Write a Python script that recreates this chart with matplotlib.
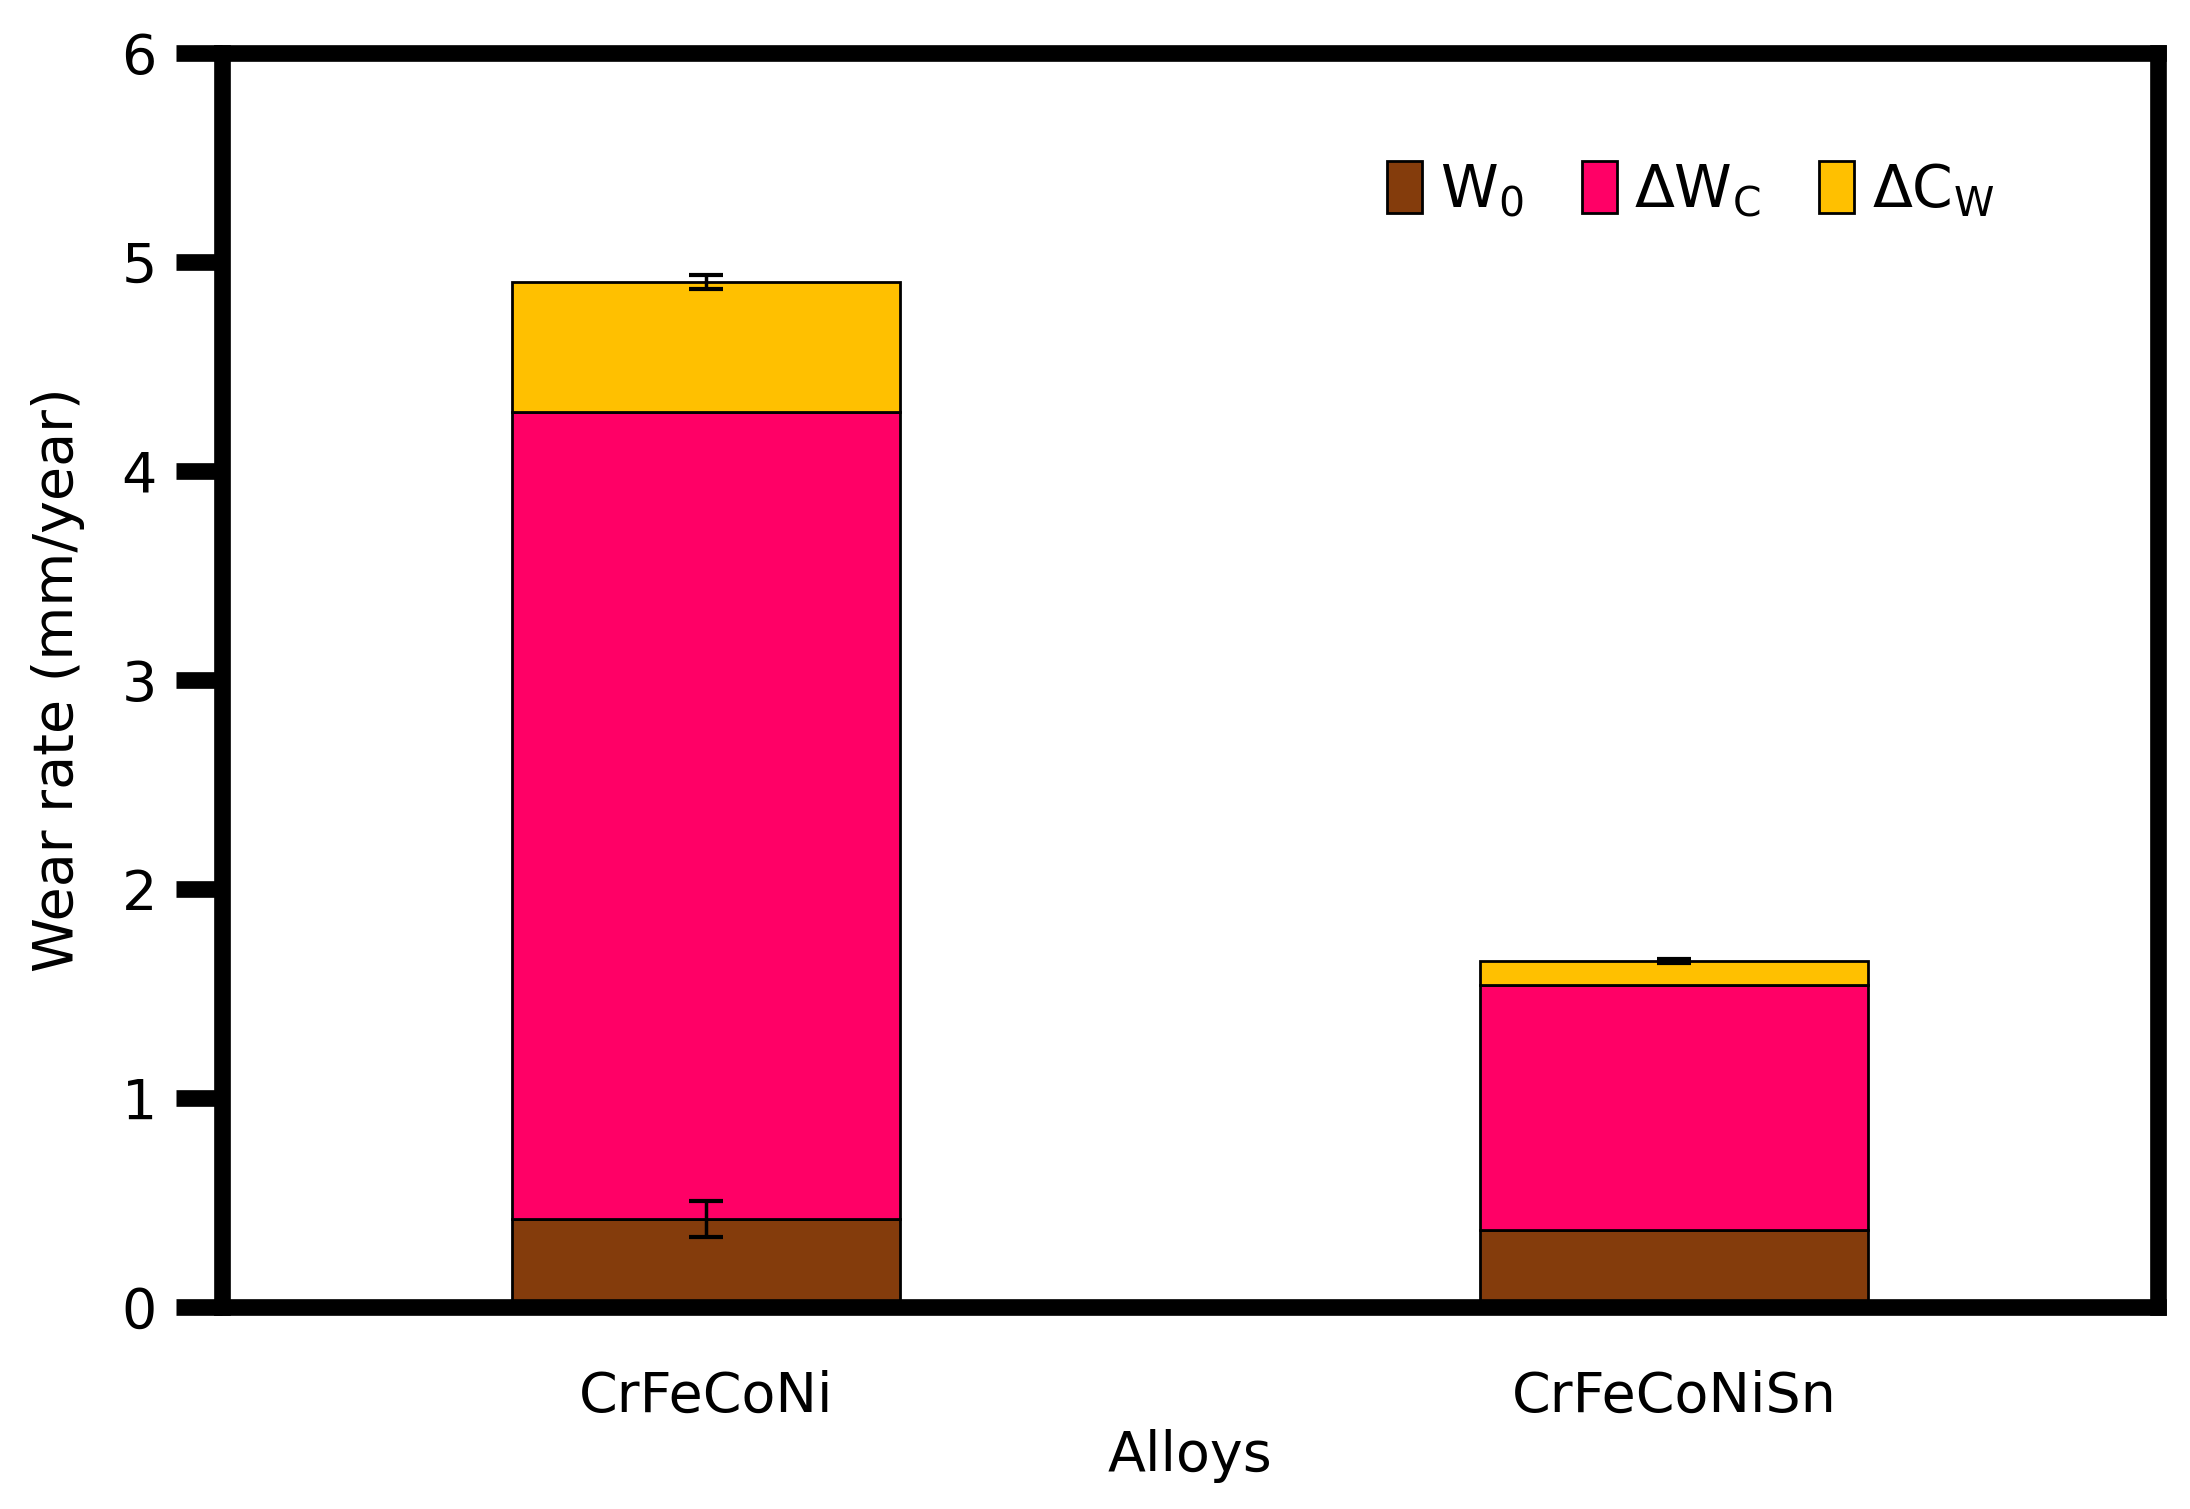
import matplotlib.pyplot as plt
import numpy as np

# data
alloys = ["CrFeCoNi", "CrFeCoNiSn"]
w0 = [0.42, 0.37]
dwc = [3.86, 1.17]
dcw = [0.625, 0.115]
w0_err = [0.085, 0.0]
total_err = [0.035, 0.008]

colors = ["#843C0C", "#FF0066", "#FFC000"]
labels = ["W$\\mathregular{_0}$", "ΔW$\\mathregular{_C}$", "ΔC$\\mathregular{_W}$"]

plt.rcParams['font.family'] = ['DejaVu Sans']

fig = plt.figure(figsize=(21.9, 15.09), dpi=100)
ax = fig.add_axes([0.1014, 0.1339, 0.884, 0.8310])

x = np.arange(len(alloys))
width = 0.4
ax.bar(x, w0, width, color=colors[0], edgecolor="black", linewidth=2, label=labels[0], zorder=2)
ax.bar(x, dwc, width, bottom=w0, color=colors[1], edgecolor="black", linewidth=2, label=labels[1], zorder=2)
bottom3 = np.array(w0) + np.array(dwc)
ax.bar(x, dcw, width, bottom=bottom3, color=colors[2], edgecolor="black", linewidth=2, label=labels[2], zorder=2)

# error bars
ax.errorbar(x[:1], w0[:1], yerr=w0_err[:1], fmt="none", ecolor="black",
            elinewidth=2.5, capsize=12, capthick=3, zorder=3)
total = bottom3 + np.array(dcw)
ax.errorbar(x, total, yerr=total_err, fmt="none", ecolor="black",
            elinewidth=2.5, capsize=12, capthick=3, zorder=3)

ax.set_xlim(-0.5, 1.5)
ax.set_ylim(0, 6)
ax.set_yticks(range(0, 7))
ax.set_xticks(x)
ax.set_xticklabels(alloys)

for s in ax.spines.values():
    s.set_linewidth(12)
    s.set_color("black")

ax.tick_params(axis="y", direction="out", length=33, width=12, pad=14, labelsize=40)
ax.tick_params(axis="x", length=0, pad=45, labelsize=40)

ax.set_xlabel("Alloys", fontsize=40, labelpad=4)
ax.set_ylabel("Wear rate (mm/year)", fontsize=40, labelpad=26)

ax.legend(loc="center", bbox_to_anchor=(0.772, 0.874), bbox_transform=fig.transFigure,
          ncol=3, frameon=False, fontsize=42, handlelength=0.6, handleheight=1.0,
          handletextpad=0.3, columnspacing=1.0)

fig.savefig("out.png", dpi=100)
